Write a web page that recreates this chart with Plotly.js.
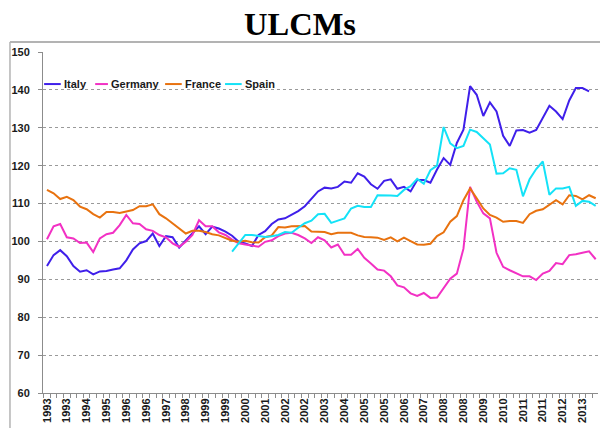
<!DOCTYPE html>
<html>
<head>
<meta charset="utf-8">
<script src="https://cdn.plot.ly/plotly-3.0.1.min.js"></script>
<style>html,body{margin:0;padding:0;background:#fff;}#chart{width:600px;height:428px;}</style>
</head>
<body>
<div id="chart"></div>
<script>
// Quarterly categories 1993Q1 .. 2013Q4
const years = [1993,1994,1995,1996,1997,1998,1999,2000,2001,2002,2003,2004,2005,2006,2007,2008,2009,2010,2011,2012,2013];
const quarters = [];
years.forEach(y => { for (let q = 1; q <= 4; q++) quarters.push(y + "Q" + q); });

// Tick labels shown every third quarter
const tickLabels = ["1993","1993","1994","1995","1996","1996","1997","1998","1999","1999",
  "2000","2001","2002","2002","2003","2004","2005","2005","2006","2007",
  "2008","2008","2009","2010","2011","2011","2012","2013"];

const italy = [93.5,96.4,97.7,96.1,93.5,92.0,92.4,91.3,92.1,92.2,
  92.6,92.9,95.0,97.9,99.5,100.1,102.1,98.8,101.4,101.1,
  98.4,100.3,102.1,104.0,101.9,103.9,103.4,102.6,101.5,99.9,
  99.5,98.8,101.7,102.7,104.6,105.8,106.1,107.0,108.0,109.3,
  111.2,113.2,114.2,114.0,114.4,115.8,115.5,118.0,117.1,115.1,
  113.9,116.0,116.4,113.9,114.4,113.2,116.2,116.2,115.5,119.0,
  122.0,120.2,126.0,129.5,141.0,138.7,133.1,136.7,134.3,127.9,
  125.2,129.3,129.4,128.7,129.4,132.8,135.8,134.3,132.3,137.2,
  140.5,140.5,139.6,null];

const germany = [100.6,104.0,104.6,101.1,100.8,99.6,99.7,97.2,100.8,101.9,
  102.3,104.3,107.0,104.8,104.6,103.2,102.8,101.7,101.1,99.5,
  98.6,99.9,101.7,105.6,104.0,104.0,102.4,101.7,100.5,99.5,
  99.2,98.9,98.6,99.9,100.3,101.4,102.1,102.3,101.7,100.8,
  99.6,101.1,100.3,98.4,99.2,96.5,96.5,98.0,95.7,94.2,
  92.6,92.3,90.8,88.4,87.9,86.3,85.6,86.4,85.1,85.2,
  87.8,90.2,91.5,98.1,114.4,110.5,107.4,106.1,97.0,93.3,
  92.4,91.5,90.8,90.8,89.8,91.5,92.2,94.3,94.0,96.4,
  96.6,97.0,97.4,95.3];

const france = [113.6,112.7,111.2,111.8,110.9,109.2,108.5,107.2,106.3,107.8,
  107.8,107.5,107.9,108.3,109.3,109.3,109.8,107.2,106.1,104.8,
  103.4,102.1,102.8,102.8,102.5,101.9,101.6,100.8,100.2,99.9,
  100.2,99.8,99.7,101.1,101.6,103.8,103.7,104.0,104.0,104.1,
  102.6,102.5,102.5,101.9,102.3,102.3,102.3,101.6,101.2,101.1,
  101.0,100.4,101.1,100.0,101.0,100.1,99.2,99.1,99.4,101.4,
  102.4,105.2,106.7,110.9,114.0,111.4,108.7,107.0,106.3,105.2,
  105.4,105.4,104.9,107.2,108.1,108.5,109.6,110.9,109.8,112.2,
  112.0,111.1,112.2,111.4];

const spain = [null,null,null,null,null,null,null,null,null,null,
  null,null,null,null,null,null,null,null,null,null,
  null,null,null,null,null,null,null,null,97.3,99.5,
  101.7,101.7,101.4,101.2,101.4,101.7,102.5,102.3,103.6,104.8,
  105.5,107.2,107.3,104.9,105.5,106.1,108.7,109.4,109.1,109.1,
  112.2,112.2,112.1,112.0,113.6,114.6,116.5,115.2,118.8,120.0,
  130.2,125.9,124.6,125.2,129.5,128.9,127.2,125.6,117.9,118.0,
  119.3,118.9,111.9,116.4,119.1,121.1,112.3,114.0,114.0,114.4,
  109.4,110.7,110.5,109.4];

const seriesNames = ["Italy","Germany","France","Spain"];
const seriesData = [italy, germany, france, spain];
const seriesColors = ["#3F1FEA","#F231C4","#E8720F","#14E2F7"];

const xIdx = quarters.map((_, i) => i);
const tickVals = tickLabels.map((_, k) => k * 3);

const traces = seriesNames.map((n, k) => ({
  type: "scatter", mode: "lines", name: n,
  x: xIdx, y: seriesData[k], text: quarters,
  line: {color: seriesColors[k], width: 2},
  connectgaps: false, hoverinfo: "text+y+name", showlegend: false
}));

const fam = "'Liberation Sans', Arial, sans-serif";
const axisFont = {family: fam, size: 11, color: "#1a1a1a", weight: 700};

// Custom legend placement (paper coordinates): line start, line end, text start
const legendSlots = [[0.002, 0.032, 0.034], [0.094, 0.117, 0.119], [0.220, 0.250, 0.252], [0.328, 0.358, 0.360]];
const legendY = 0.906;

const shapes = [
  {type: "line", xref: "paper", yref: "paper", x0: -0.0595, x1: 1.004, y0: 1.029, y1: 1.029, line: {color: "#b3b3b3", width: 2}},
  {type: "line", xref: "paper", yref: "paper", x0: -0.0595, x1: -0.0595, y0: 1.029, y1: -0.11, line: {color: "#b3b3b3", width: 1.5}}
];
const annotations = [];
seriesNames.forEach((n, k) => {
  const s = legendSlots[k];
  shapes.push({type: "line", xref: "paper", yref: "paper", x0: s[0], x1: s[1], y0: legendY, y1: legendY,
    line: {color: seriesColors[k], width: 2}});
  annotations.push({xref: "paper", yref: "paper", x: s[2], y: legendY, xanchor: "left", yanchor: "middle",
    text: "<b>" + n + "</b>", showarrow: false, font: {family: fam, size: 11, color: "#1a1a1a", weight: 700}});
});

const layout = {
  width: 600, height: 428,
  margin: {l: 43, r: 2, t: 52, b: 35},
  paper_bgcolor: "#fff", plot_bgcolor: "#fff",
  title: {
    text: "<b>ULCMs</b>",
    font: {family: "'Liberation Serif', 'Times New Roman', serif", size: 32.5, color: "#000"},
    x: 0.5, xanchor: "center", yref: "container", y: 0.945, yanchor: "middle"
  },
  showlegend: false,
  xaxis: {
    range: [-0.6, 83.35], zeroline: false, showgrid: false,
    tickmode: "array", tickvals: tickVals, ticktext: tickLabels.map(t => "<b>" + t + "</b>"),
    tickangle: -90, ticks: "", tickfont: axisFont,
    showline: true, linecolor: "#8c8c8c", linewidth: 1,
    minor: {tickmode: "linear", tick0: -0.5, dtick: 1, ticks: "outside", ticklen: 4, tickcolor: "#8c8c8c", tickwidth: 1, showgrid: false},
    fixedrange: true
  },
  yaxis: {
    range: [60, 150], tickmode: "linear", tick0: 60, dtick: 10,
    showgrid: true, gridcolor: "#9a9a9a", griddash: "dot", gridwidth: 1,
    zeroline: false, showline: true, linecolor: "#8c8c8c", linewidth: 1,
    ticks: "outside", ticklen: 4, tickcolor: "#8c8c8c", ticklabelstandoff: 6,
    tickfont: axisFont, fixedrange: true
  },
  shapes: shapes,
  annotations: annotations
};

Plotly.newPlot("chart", traces, layout, {displayModeBar: false, staticPlot: true});
</script>
</body>
</html>
